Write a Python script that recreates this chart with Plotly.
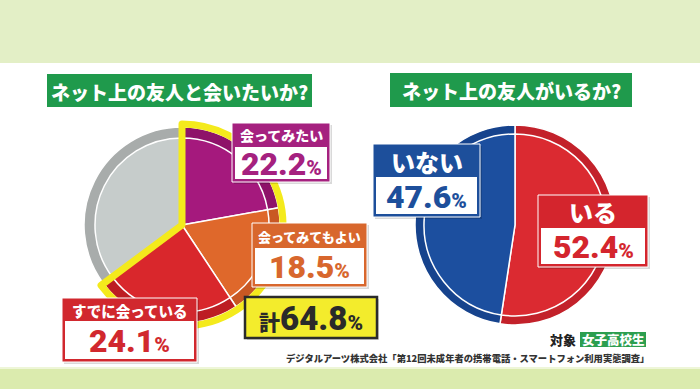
import plotly.graph_objects as go

W, H = 700, 389

# ---------------- data ----------------
meet_labels = ["会ってみたい", "会ってみてもよい", "すでに会っている", "会いたくない"]
meet_values = [22.2, 18.5, 24.1, 35.2]
meet_total_label = "計"
friend_labels = ["いる", "いない"]
friend_values = [52.4, 47.6]
title_left = "ネット上の友人と会いたいか?"
title_right = "ネット上の友人がいるか?"
target_label = "対象"
target_value = "女子高校生"
source_text = "デジタルアーツ株式会社「第12回未成年者の携帯電話・スマートフォン利用実態調査」"

# ---------------- styles ----------------
meet_inner = ["#a5197d", "#df682b", "#d9272c", "#c6cccb"]
meet_rim = ["#8e1269", "#c95823", "#bd1d23", "#a8acab"]
friend_inner = ["#db2a31", "#1c4f9f"]
friend_rim = ["#c3212a", "#16438d"]
YELLOW = "#f4ea1c"
GREEN = "#1f9a4c"
FONT = "Noto Sans CJK JP"
NUMFONT = "Roboto, Noto Sans CJK JP"

def dom(cx, cy, r):
    return dict(x=[(cx - r) / W, (cx + r) / W], y=[1 - (cy + r) / H, 1 - (cy - r) / H])

def fx(px):
    return px / W

def fy(py):
    return 1 - py / H

fig = go.Figure()

def pie(values, colors, cx, cy, r, lcolor="white", lwidth=1.5):
    fig.add_trace(go.Pie(
        values=values, marker=dict(colors=colors, line=dict(color=lcolor, width=lwidth)),
        domain=dom(cx, cy, r), sort=False, direction="clockwise", rotation=0,
        textinfo="none", hoverinfo="skip", showlegend=False))

# left pie
LCX, LCY, LR = 182, 225, 98
pie(meet_values, meet_rim, LCX, LCY, LR)
pie(meet_values, meet_inner, LCX, LCY, LR - 11)
total = round(sum(meet_values[:3]), 1)
rest = round(sum(meet_values) - total, 1)
pie([total, rest], ["rgba(0,0,0,0)", "rgba(0,0,0,0)"], LCX, LCY, LR + 3,
    lcolor=[YELLOW, "rgba(0,0,0,0)"], lwidth=[7, 0])

# right pie
RCX, RCY, RR = 515, 225, 100
pie(friend_values, friend_rim, RCX, RCY, RR)
pie(friend_values, friend_inner, RCX, RCY, RR - 9)

shapes = []
annots = []

def rect(x0, y0, x1, y1, fill, line=None, lw=0, layer="above"):
    shapes.append(dict(type="rect", xref="paper", yref="paper", layer=layer,
                       x0=fx(x0), x1=fx(x1), y0=fy(y1), y1=fy(y0), fillcolor=fill,
                       line=dict(color=line or "rgba(0,0,0,0)", width=lw)))

def text(x, y, t, size, color, xanchor="center", h=None, weight=None, family=FONT):
    a = dict(xref="paper", yref="paper", x=fx(x), y=fy(y), text=t, showarrow=False,
             xanchor=xanchor, yanchor="middle", borderpad=0,
             font=dict(family=family, size=size, color=color))
    if weight:
        a["font"]["weight"] = weight
    if h:
        a["height"] = h
    annots.append(a)

# background
rect(0, 63, 700, 367, "white", layer="below")
rect(0, 0, 700, 63, "#e3efc6", layer="below")
rect(0, 367, 700, 389, "#dbebae", layer="below")
rect(0, 367, 700, 369, "#eef6d8", layer="below")

# titles
rect(47, 74, 312, 107, GREEN)
text(179.5, 90.5, title_left, 19, "white", weight=900, h=30)
rect(390, 73, 632, 107, GREEN)
text(511, 90, title_right, 19, "white", weight=900, h=30)

def pct(v, size):
    return "%s<span style='font-size:%dpx'>%%</span>" % (v, int(size * 0.68))

def box(x0, y0, x1, y1, hy, color, label, value, lsize, vsize=32):
    rect(x0 + 2, y0 + 2, x1 + 2, y1 + 2, "rgba(0,0,0,0.15)")
    rect(x0, y0, x1, y1, color, line="white", lw=1)
    rect(x0 + 3, hy, x1 - 3, y1 - 3, "white")
    text((x0 + x1) / 2, (y0 + hy) / 2 + 0.5, label, lsize, "white", weight=900, h=hy - y0 - 2)
    text((x0 + x1) / 2, (hy + y1 - 3) / 2 + 0.5, pct(value, vsize), vsize, color, weight=900,
         h=y1 - 3 - hy - 2, family=NUMFONT)

box(232, 123, 330, 182, 147, "#a5217f", meet_labels[0], meet_values[0], 14)
box(252, 223, 367, 287, 248, "#d8672d", meet_labels[1], meet_values[1], 13)
box(62, 298, 197, 362, 321, "#d1282e", meet_labels[2], meet_values[2], 14.5)
box(373, 144, 480, 217, 177, "#1d4f9b", friend_labels[1], friend_values[1], 24)
box(538, 195, 648, 267, 228, "#d4252d", friend_labels[0], friend_values[0], 24)

# total box
rect(247, 299, 379, 340, "rgba(0,0,0,0.15)")
rect(245, 297, 377, 338, "#f3ec2c", line="#2b2b2b", lw=2.5)
text(311, 318, "<span style='font-size:21px'>%s</span>%s<span style='font-size:21px'>%%</span>"
     % (meet_total_label, total), 33, "#2a2a2a", weight=900, h=36, family=NUMFONT)

# target
text(577, 339.5, target_label, 13, "#222222", xanchor="right", weight=900)
rect(580, 332, 646, 347, "#2c9e4f")
text(613, 339.5, target_value, 12.5, "white", weight=900)

# source
text(467, 357.5, source_text, 9.3, "#333333", weight=900)

fig.update_layout(width=W, height=H, margin=dict(l=0, r=0, t=0, b=0),
                  paper_bgcolor="white", plot_bgcolor="white",
                  shapes=shapes, annotations=annots, showlegend=False)

fig.write_html("out.html", config={"displayModeBar": False, "staticPlot": True},
               post_script="document.body.style.margin='0';document.body.style.padding='0';"
                           "document.body.style.overflow='hidden';")
